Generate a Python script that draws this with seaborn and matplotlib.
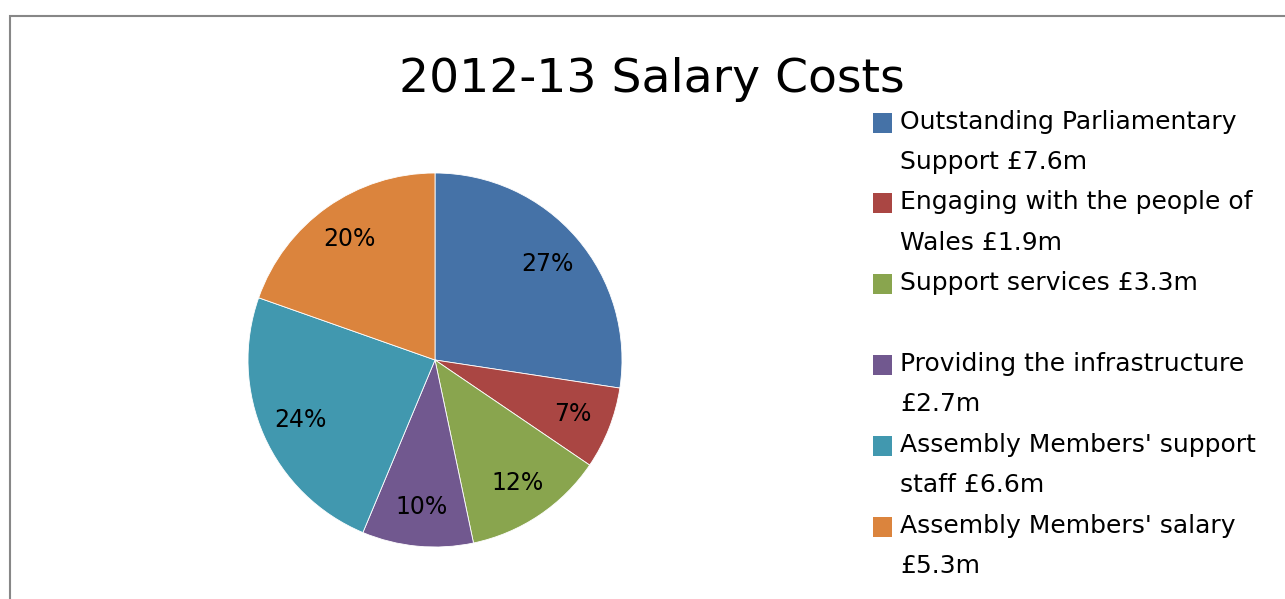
import matplotlib
matplotlib.use("Agg")
import matplotlib.pyplot as plt
import seaborn as sns
from matplotlib.patches import Rectangle

# ---------------- data ----------------
categories = [
    "Outstanding Parliamentary\nSupport £7.6m",
    "Engaging with the people of\nWales £1.9m",
    "Support services £3.3m\n",
    "Providing the infrastructure\n£2.7m",
    "Assembly Members' support\nstaff £6.6m",
    "Assembly Members' salary\n£5.3m",
]
# shares (%)
shares = [27.4, 7.1, 12.2, 9.6, 24.1, 19.6]
colors = ["#4572A7", "#AA4643", "#89A54E", "#71588F", "#4198AF", "#DB843D"]
title = "2012-13 Salary Costs"

# ---------------- style ----------------
sns.set_theme(style="white")
plt.rcParams["font.family"] = ["DejaVu Sans"]

W, H = 1285, 599
fig = plt.figure(figsize=(W / 100, H / 100), dpi=100)
fig.patch.set_facecolor("white")

# pie axes: centre (435, 360), radius 187 px
cx, cy, r = 435, 360, 187
ax = fig.add_axes([(cx - r) / W, (H - cy - r) / H, 2 * r / W, 2 * r / H])
palette = sns.color_palette(colors)
wedges, texts, autotexts = ax.pie(
    shares, colors=palette, startangle=90, counterclock=False,
    autopct="%.0f%%", pctdistance=0.79, radius=1,
    wedgeprops=dict(edgecolor="white", linewidth=0.6),
    textprops=dict(fontsize=17, color="black"),
)
ax.set_xlim(-1, 1)
ax.set_ylim(-1, 1)
ax.set_aspect("equal")
ax.axis("off")

# title
fig.text(652 / W, 1 - 92 / H, title, ha="center", va="baseline",
         fontsize=34, color="black")

# legend drawn by hand so the swatch sits on the first line of each entry
base0, pitch = 128.5, 40.4
line = 0
for lab, col in zip(categories, palette):
    y_base = base0 + line * pitch
    fig.patches.append(Rectangle(
        (873 / W, 1 - (y_base + 4) / H), 19 / W, 20 / H,
        transform=fig.transFigure, facecolor=col, edgecolor="none"))
    for part in lab.split("\n"):
        yb = base0 + line * pitch
        fig.text(900 / W, 1 - yb / H, part, ha="left", va="baseline",
                 fontsize=18, color="black")
        line += 1

# chart frame (runs off the right/bottom edge like the source)
fig.patches.append(Rectangle(
    (10 / W, -0.05), 1.1, 1.05 - 16 / H, transform=fig.transFigure,
    fill=False, edgecolor="#878787", linewidth=1.5))

plt.savefig("out.png", dpi=100)
plt.close()
